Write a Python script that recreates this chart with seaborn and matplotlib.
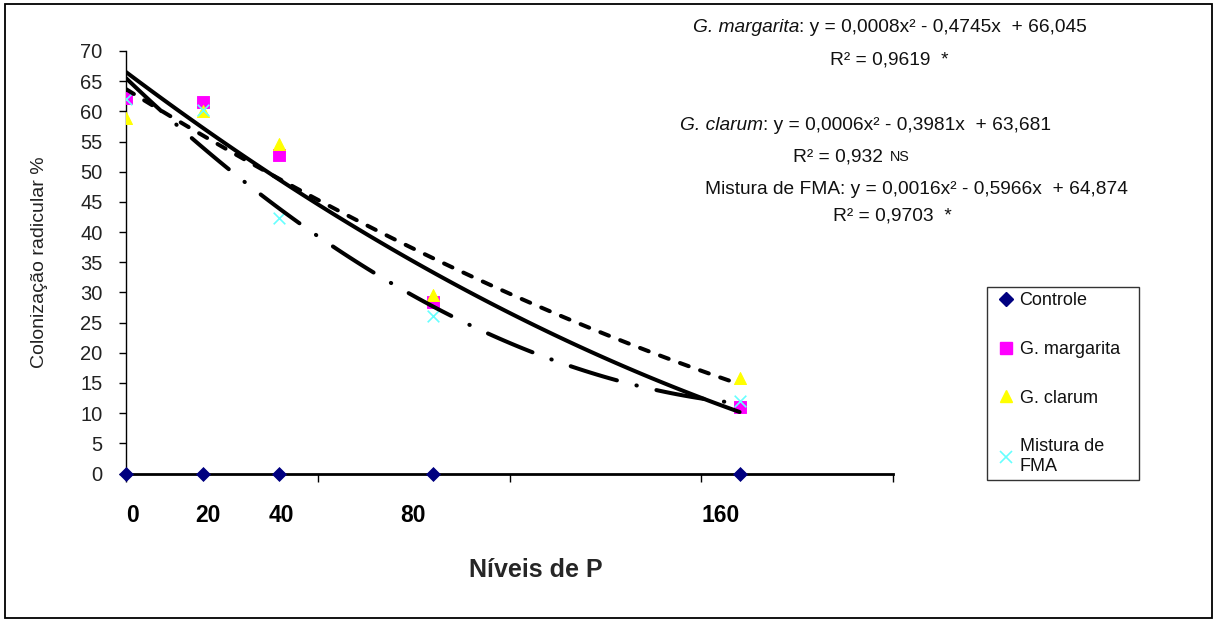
import matplotlib
matplotlib.use("Agg")
import matplotlib.pyplot as plt
import matplotlib.patches as mpatches
from matplotlib.lines import Line2D
import seaborn as sns
import numpy as np
import pandas as pd

# ---------------- data ----------------
p_levels = [0, 20, 40, 80, 160]
controle = [0, 0, 0, 0, 0]
g_margarita = [62.2, 61.5, 52.8, 28.4, 11.1]
g_clarum = [58.9, 60.0, 54.6, 29.6, 15.9]
mistura = [62.0, 60.2, 42.4, 26.1, 12.0]

series_names = ["Controle", "G. margarita", "G. clarum", "Mistura de\nFMA"]
x_tick_labels = ["0", "20", "40", "80", "160"]
x_label = "Níveis de P"
y_label = "Colonização radicular %"

eq_species = ["G. margarita", "G. clarum", "Mistura de FMA"]
eq_formulas = [": y = 0,0008x² - 0,4745x  + 66,045",
               ": y = 0,0006x² - 0,3981x  + 63,681",
               ": y = 0,0016x² - 0,5966x  + 64,874"]
eq_r2 = ["R² = 0,9619  *", "R² = 0,932 ", "R² = 0,9703  *"]
eq_sig_small = ["", "NS", ""]

# ---------------- style ----------------
sns.set_theme(style="white")
plt.rcParams['font.family'] = ['Liberation Sans', 'DejaVu Sans']

W, H = 1217, 621
fig = plt.figure(figsize=(W / 100, H / 100), dpi=100)
fig.patch.set_facecolor("white")

# axes in pixel geometry
ax_left, ax_right, ax_top, ax_bottom = 126, 893, 51, 473.5
ax = fig.add_axes([ax_left / W, (H - ax_bottom) / H,
                   (ax_right - ax_left) / W, (ax_bottom - ax_top) / H])
ax.set_facecolor("white")

df = pd.DataFrame({"P": p_levels, "ctrl": controle, "gm": g_margarita,
                   "gc": g_clarum, "mix": mistura})

# trend lines (quadratic fits, as in the original)
line_w = 2.9
sns.regplot(data=df, x="P", y="gm", order=2, ci=None, scatter=False, ax=ax,
            truncate=True, line_kws=dict(color="black", lw=line_w, ls="-", zorder=5,
                                         solid_capstyle="round"))
sns.regplot(data=df, x="P", y="gc", order=2, ci=None, scatter=False, ax=ax,
            truncate=True, line_kws=dict(color="black", lw=line_w, ls=(0, (2.3, 3.0)), zorder=5,
                                         dash_capstyle="round"))
sns.regplot(data=df, x="P", y="mix", order=2, ci=None, scatter=False, ax=ax,
            truncate=True, line_kws=dict(color="black", lw=line_w, ls=(0, (12, 5.0, 0.1, 5.0)),
                                         zorder=5, dash_capstyle="round"))

# scatter markers
sns.scatterplot(data=df, x="P", y="ctrl", marker="D", s=50, color="#000080",
                edgecolor="#000080", ax=ax, zorder=6, clip_on=False)
sns.scatterplot(data=df, x="P", y="gm", marker="s", s=65, color="#FF00FF",
                edgecolor="#FF00FF", ax=ax, zorder=3)
sns.scatterplot(data=df, x="P", y="gc", marker="^", s=75, color="#FFFF00",
                edgecolor="#FFFF00", ax=ax, zorder=3)
sns.scatterplot(data=df, x="P", y="mix", marker="x", s=70, color="#66FFFF",
                linewidth=1.2, ax=ax, zorder=4)

# axes limits and ticks
ax.set_xlim(0, 200)
ax.set_ylim(0, 70)
ax.set_xticks([0, 50, 100, 150, 200])
ax.set_xticklabels([])
ax.set_yticks(np.arange(0, 71, 5))
ax.tick_params(axis="y", direction="out", length=5, width=1, color="black",
               labelsize=14.5, labelcolor="#222222", pad=12, left=True)
ax.tick_params(axis="x", direction="out", length=6, width=1, color="black", bottom=True)
for s in ["top", "right"]:
    ax.spines[s].set_visible(False)
ax.spines["left"].set_color("black")
ax.spines["left"].set_linewidth(1.0)
ax.spines["bottom"].set_color("black")
ax.spines["bottom"].set_linewidth(2.0)
ax.spines["bottom"].set_zorder(2)
ax.grid(False)

# x category labels (bold) under the points
label_pos = [1.8, 21.4, 40.4, 74.8, 155.0]
bold_font = ['Liberation Sans Narrow', 'Liberation Sans', 'DejaVu Sans']
for xp, lab in zip(label_pos, x_tick_labels):
    ax.text(xp, (ax_bottom - 515) / (ax_bottom - ax_top), lab,
            transform=ax.get_xaxis_transform(), ha="center", va="center",
            fontsize=16.5, fontweight="bold", family=bold_font, color="black")

ax.set_xlabel(x_label, fontsize=18, fontweight="bold", family=bold_font)
ax.xaxis.set_label_coords((536 - ax_left) / (ax_right - ax_left),
                          (ax_bottom - 570) / (ax_bottom - ax_top))
ax.xaxis.label.set_va("center")
ax.set_ylabel(y_label, fontsize=14, color="#222222")
ax.yaxis.set_label_coords((40 - ax_left) / (ax_right - ax_left), 0.5)
ax.yaxis.label.set_va("center")

# equations (italic species + regular formula), pixel positions of left edges
eq_font = 13.8
eq_lines = [(693, 28, 830, 60), (680, 126, 793, 157), (705, 190, 833, 216)]
for i, (x1, y1, x2, y2) in enumerate(eq_lines):
    t1 = fig.text(x1 / W, 1 - y1 / H, eq_species[i], fontsize=eq_font,
                  style="italic" if i < 2 else "normal", ha="left", va="center",
                  color="#111111")
    ax.annotate(eq_formulas[i], xy=(1, 0), xycoords=t1, xytext=(0, 0),
                textcoords="offset points", ha="left", va="bottom",
                fontsize=eq_font, color="#111111", annotation_clip=False)
    t2 = fig.text(x2 / W, 1 - y2 / H, eq_r2[i], fontsize=eq_font,
                  ha="left", va="center", color="#111111")
    if eq_sig_small[i]:
        ax.annotate(eq_sig_small[i], xy=(1, 0), xycoords=t2, xytext=(1, 1),
                    textcoords="offset points", ha="left", va="bottom",
                    fontsize=eq_font - 3.5, color="#111111", annotation_clip=False)

# legend
handles = [
    Line2D([], [], marker="D", ls="", color="#000080", markersize=7),
    Line2D([], [], marker="s", ls="", color="#FF00FF", markersize=8.5),
    Line2D([], [], marker="^", ls="", color="#FFFF00", markersize=9),
    Line2D([], [], marker="x", ls="", color="#66FFFF", markersize=9, markeredgewidth=1.2),
]
lx0, ly0, lx1, ly1 = 987, 287, 1139, 478
leg = fig.legend(handles, series_names, loc="upper left",
                 bbox_to_anchor=(lx0 / W, 1 - ly1 / H, (lx1 - lx0) / W, (ly1 - ly0) / H),
                 mode="expand", frameon=True, fancybox=False, edgecolor="black",
                 fontsize=13, labelspacing=1.75, handlelength=1.5, handletextpad=0.0,
                 borderpad=0.3, borderaxespad=0)
leg.get_frame().set_linewidth(1.0)
for t in leg.get_texts():
    t.set_color("#111111")

# outer border of the chart area
fig.patches.append(mpatches.Rectangle((5 / W, 3 / H), (W - 10) / W, (H - 7) / H,
                                      transform=fig.transFigure, fill=False,
                                      edgecolor="black", linewidth=1.3))

fig.savefig("out.png", dpi=100, facecolor="white")
